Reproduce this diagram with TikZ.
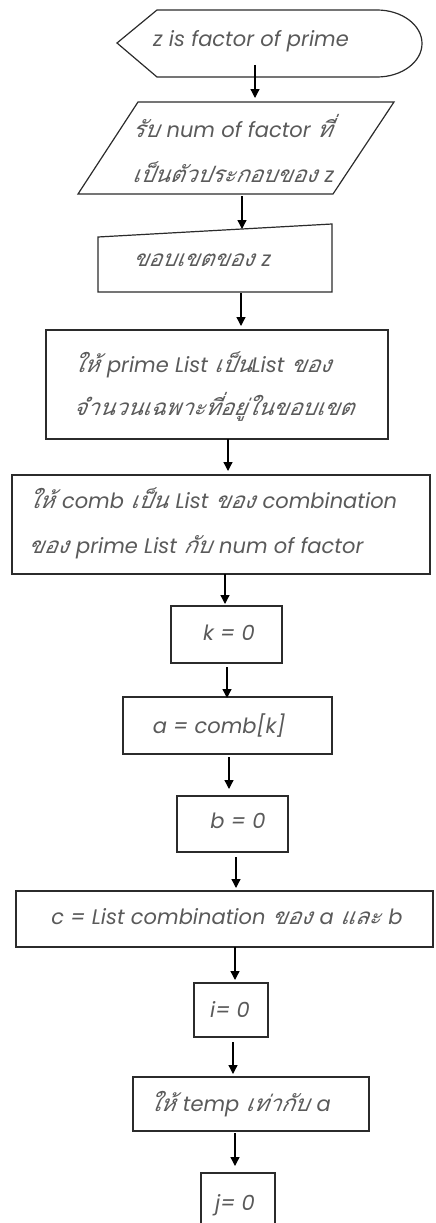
\documentclass[tikz,border=0pt]{standalone}
\usepackage{fontspec}
\usetikzlibrary{arrows.meta}
\newfontfamily\thaifont[Script=Thai,FakeSlant=0.2]{Loma}
\newfontfamily\latinfont{Poppins}
\newcommand\thx[1]{{\thaifont\fontsize{22.5}{26}\selectfont #1}}
\newcommand\gp{\hspace{8pt}}
\definecolor{ink}{HTML}{2B2B2B}
\definecolor{txt}{HTML}{5A5A5A}
\begin{document}
\begin{tikzpicture}[x=1pt,y=-1pt,
  shapeline/.style={draw=ink,line width=1.2pt},
  box/.style={shapeline,rectangle,inner sep=0pt},
  lbl/.style={text=txt,font=\latinfont\itshape\fontsize{21}{25}\selectfont,inner sep=0pt,anchor=base},
  lbll/.style={lbl,anchor=base west},
  arr/.style={draw=black,line width=1.3pt,-{Triangle[length=9pt,width=9pt]}}]
\useasboundingbox (0,0) rectangle (436,1223);

% start terminal (display shape)
\draw[shapeline] (117,43) -- (157,10) -- (377,10)
  arc[start angle=-90,end angle=90,x radius=45,y radius=33.5] -- (157,77) -- cycle;
\node[lbl] (tstart) at (251,47) {z is factor of prime};

% input parallelogram
\draw[shapeline] (138,102) -- (394,102) -- (333,194) -- (78,194) -- cycle;
\node[lbll] (inA) at (132,137) {\thx{รับ}\gp num of factor \thx{ที่}};
\node[lbll] (inB) at (132,182) {\thx{เป็นตัวประกอบของ}\gp z};

% manual input
\draw[shapeline] (98,237) -- (332,224) -- (332,292) -- (98,292) -- cycle;
\node[lbl] (bound) at (202,266) {\thx{ขอบเขตของ}\gp z};

% process boxes
\node[box,minimum width=342pt,minimum height=109pt] (b4) at (217,384.5) {};
\node[lbll] (b4a) at (73,372) {\thx{ให้}\gp prime List \thx{เป็น}List \thx{ของ}};
\node[lbll] (b4b) at (73,415) {\thx{จำนวนเฉพาะที่อยู่ในขอบเขต}};

\node[box,minimum width=418pt,minimum height=99pt] (b5) at (221,524.5) {};
\node[lbll] (b5a) at (28,508) {\thx{ให้}\gp comb \thx{เป็น}\gp List \thx{ของ}\gp combination};
\node[lbll] (b5b) at (28,553) {\thx{ของ}\gp prime List \thx{กับ}\gp num of factor};

\node[box,minimum width=111pt,minimum height=57pt] (bk) at (226.5,634.5) {};
\node[lbl] (tk) at (229,640) {k = 0};

\node[box,minimum width=209pt,minimum height=57pt] (ba) at (227.5,725.5) {};
\node[lbl] (ta) at (219,733) {a = comb[k]};

\node[box,minimum width=111pt,minimum height=56pt] (bb) at (232.5,824) {};
\node[lbl] (tb) at (238,828) {b = 0};

\node[box,minimum width=417pt,minimum height=56pt] (bc) at (224.5,919) {};
\node[lbl] (tc) at (227,924) {c = List combination \thx{ของ}\gp a \thx{และ}\gp b};

\node[box,minimum width=74pt,minimum height=54pt] (bi) at (231,1010) {};
\node[lbl] (ti) at (230,1017) {i= 0};

\node[box,minimum width=236pt,minimum height=54pt] (bt) at (251,1104) {};
\node[lbl] (tt) at (240,1111) {\thx{ให้}\gp temp \thx{เท่ากับ}\gp a};

\node[box,minimum width=74pt,minimum height=70pt] (bj) at (238,1208) {};
\node[lbl] (tj) at (235,1210) {j= 0};

% connector end points
\coordinate (s1) at (255,65);   \coordinate (e1) at (255,98);
\coordinate (s2) at (242,196);  \coordinate (e2) at (242,229);
\coordinate (s3) at (241,293);  \coordinate (e3) at (241,326);
\coordinate (s4) at (228,439);  \coordinate (e4) at (228,471);
\coordinate (s5) at (225,574);  \coordinate (e5) at (225,604);
\coordinate (s6) at (227,667);  \coordinate (e6) at (227,698);
\coordinate (s7) at (229,757);  \coordinate (e7) at (229,789);
\coordinate (s8) at (236,857);  \coordinate (e8) at (236,888);
\coordinate (s9) at (235,947);  \coordinate (e9) at (235,980);
\coordinate (s10) at (233,1042); \coordinate (e10) at (233,1074);
\coordinate (s11) at (235,1133); \coordinate (e11) at (235,1166);

\foreach \k in {1,...,11} \draw[arr] (s\k) -- (e\k);
\end{tikzpicture}
\end{document}
